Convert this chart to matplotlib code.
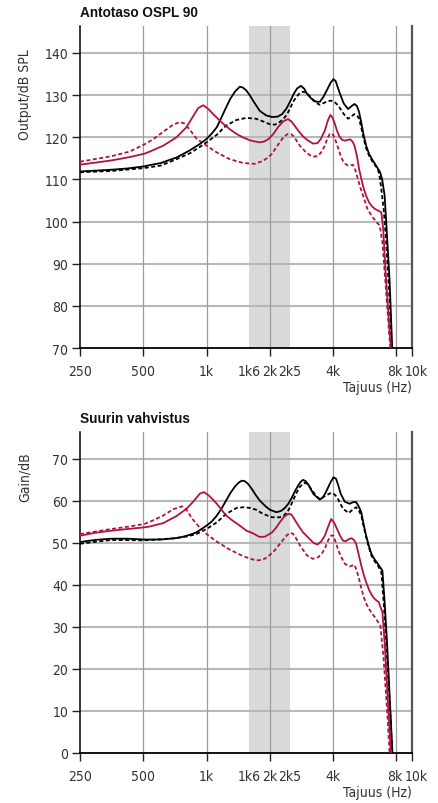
import numpy as np
import matplotlib
matplotlib.use('Agg')
import matplotlib.pyplot as plt
from matplotlib import font_manager
from matplotlib.transforms import ScaledTranslation
from matplotlib.ticker import FixedLocator, FixedFormatter

plt.rcParams['figure.dpi'] = 100

# pick a narrow face if there is one, the reference uses a condensed sans
_fonts = [(f.name, f.stretch) for f in font_manager.fontManager.ttflist]
if any(n == 'Liberation Sans Narrow' for n, s in _fonts):
    plt.rcParams['font.family'] = ['Liberation Sans Narrow', 'DejaVu Sans']
elif any(n == 'DejaVu Sans' and s in ('condensed', 'semi-condensed', 600, 700) for n, s in _fonts):
    plt.rcParams['font.family'] = ['DejaVu Sans']
    plt.rcParams['font.stretch'] = 'condensed'
else:
    plt.rcParams['font.family'] = ['Liberation Sans', 'DejaVu Sans']

# x axis (the printed chart ends a bit short of 10 kHz, where "10k" is written)
xmin, xmax = 250, 9500
xticks_major = [250, 500, 1000, 2000, 4000, 8000, xmax]
xlabels_major = ['250', '500', '1k', '2k', '4k', '8k', '10k']
xticks_minor = [1600, 2500]
xlabels_minor = ['1k6', '2k5']
band = (1600, 2500)

# --- Antotaso OSPL 90 ---
ospl_k_f = [250, 300, 352, 420, 506, 537, 607, 720, 833, 929, 1000, 1060, 1120, 1180, 1240, 1300,
            1370, 1440, 1490, 1547, 1606, 1665, 1790, 1920, 2052, 2180, 2290, 2400, 2490, 2600, 2700,
            2815, 2920, 3010, 3150, 3300, 3459, 3600, 3750, 3900, 4020, 4120, 4290, 4500, 4720, 4900,
            5060, 5200, 5320, 5450, 5600, 5760, 5930, 6130, 6330, 6550, 6700, 6850, 7040, 7225, 7438, 7650]
ospl_k = [111.9, 112.1, 112.3, 112.6, 113.1, 113.4, 113.9, 115.2, 116.9, 118.4, 119.6, 120.9, 122.4, 124.8, 127.1, 129.2,
          130.9, 132.0, 131.8, 131.1, 130.0, 128.7, 126.3, 125.2, 124.8, 124.9, 125.5, 126.8, 128.3, 130.3, 131.6,
          132.2, 131.5, 130.3, 129.2, 128.5, 128.4, 129.6, 131.3, 133.0, 133.8, 133.3, 130.7, 128.0, 126.7, 127.4,
          127.9, 127.4, 126.0, 123.5, 120.4, 117.9, 116.1, 114.8, 113.7, 112.5, 111.7, 110.0, 106.2, 96.7, 85.7, 70.0]

ospl_kd_f = [250, 352, 506, 607, 720, 833, 929, 1000, 1120, 1240, 1389, 1547, 1720, 1850, 2000, 2120,
             2231, 2330, 2420, 2500, 2580, 2680, 2780, 2880, 2980, 3100, 3255, 3450, 3600, 3750, 3920,
             4080, 4240, 4500, 4720, 4900, 5060, 5200, 5320, 5450, 5600, 5760, 5930, 6200, 6540, 6700,
             6964, 7160, 7438, 7600]
ospl_kd = [111.7, 112.0, 112.7, 113.3, 114.8, 116.2, 117.7, 118.8, 120.6, 122.8, 124.1, 124.6, 124.4, 123.8, 123.1, 123.0,
           123.6, 124.4, 125.5, 126.9, 128.4, 129.6, 130.5, 130.8, 130.6, 129.8, 128.5, 127.7, 128.1, 128.5, 128.7,
           128.3, 127.5, 125.5, 124.4, 125.0, 125.5, 125.2, 124.4, 122.3, 119.6, 117.3, 115.7, 114.0, 112.5, 110.1,
           103.0, 95.2, 81.0, 70.0]

ospl_r_f = [250, 352, 430, 506, 537, 622, 720, 803, 864, 912, 964, 1015, 1096, 1200, 1300, 1389,
            1500, 1606, 1700, 1791, 1880, 1964, 2080, 2190, 2320, 2440, 2530, 2630, 2750, 2880, 3010,
            3213, 3370, 3500, 3655, 3780, 3886, 3980, 4080, 4180, 4290, 4420, 4560, 4700, 4837, 4950,
            5060, 5200, 5320, 5450, 5600, 5760, 5930, 6130, 6330, 6550, 6790, 6930, 7100, 7380, 7540]
ospl_r = [113.5, 114.5, 115.3, 116.1, 116.6, 118.0, 120.0, 122.4, 125.0, 126.9, 127.6, 126.8, 125.1, 123.2, 121.8, 120.8,
          119.9, 119.3, 119.0, 118.8, 119.0, 119.5, 120.8, 122.4, 123.8, 124.3, 123.8, 122.7, 121.4, 120.2, 119.4,
          118.5, 118.6, 119.6, 121.6, 124.0, 125.3, 124.6, 123.2, 121.5, 120.2, 119.4, 119.2, 119.4, 119.5, 119.0,
          118.0, 115.5, 112.5, 110.2, 107.8, 106.0, 104.6, 103.6, 103.0, 102.6, 102.2, 98.3, 88.8, 76.2, 70.0]

ospl_rd_f = [250, 352, 430, 506, 560, 622, 694, 747, 783, 833, 895, 1000, 1120, 1290, 1494, 1697,
             1858, 1960, 2052, 2140, 2231, 2340, 2440, 2520, 2600, 2700, 2780, 2980, 3120, 3255, 3400,
             3530, 3655, 3760, 3857, 3940, 4030, 4130, 4240, 4350, 4470, 4600, 4720, 4970, 5100, 5250,
             5400, 5555, 5830, 6050, 6250, 6450, 6668, 6870, 7100, 7410, 7500]
ospl_rd = [114.2, 115.5, 116.6, 118.3, 119.6, 121.3, 123.0, 123.6, 123.3, 121.8, 119.7, 118.0, 116.4, 114.8, 113.9, 113.7,
           114.4, 115.2, 116.1, 117.5, 118.8, 120.2, 120.8, 120.8, 120.2, 119.0, 118.0, 116.4, 115.7, 115.4, 115.6,
           116.6, 118.0, 119.7, 120.8, 120.9, 120.4, 119.0, 117.3, 115.6, 114.3, 113.6, 113.3, 113.5, 112.3, 110.1,
           108.0, 106.2, 103.0, 101.7, 100.7, 99.8, 99.1, 95.1, 85.7, 73.0, 70.0]

# --- Suurin vahvistus ---
gain_k_f = [250, 295, 352, 421, 506, 607, 705, 765, 830, 895, 1000, 1060, 1120, 1180, 1240, 1300,
            1370, 1420, 1470, 1520, 1580, 1650, 1720, 1791, 1900, 2000, 2150, 2260, 2357, 2450, 2530,
            2630, 2726, 2800, 2880, 2960, 3050, 3230, 3459, 3580, 3700, 3900, 4020, 4130, 4230, 4350,
            4550, 4800, 4980, 5150, 5300, 5450, 5600, 5750, 5920, 6090, 6300, 6540, 6870, 7040, 7225,
            7438, 7670]
gain_k = [50.2, 50.7, 51.0, 51.0, 50.8, 50.8, 51.1, 51.4, 51.9, 52.5, 54.1, 55.1, 56.5, 58.2, 60.1, 61.9,
          63.5, 64.3, 64.8, 64.7, 64.0, 62.7, 61.3, 60.1, 58.8, 57.9, 57.3, 57.6, 58.3, 59.3, 60.5,
          62.2, 63.6, 64.5, 65.0, 64.7, 63.9, 61.6, 60.3, 60.8, 62.1, 64.5, 65.6, 65.3, 63.8, 61.7,
          59.8, 59.3, 59.7, 59.7, 58.7, 57.3, 54.3, 51.7, 49.3, 47.4, 46.1, 45.0, 43.4, 35.9, 26.4,
          13.6, 0.0]

gain_kd_f = [250, 352, 506, 705, 800, 895, 1000, 1120, 1240, 1389, 1510, 1620, 1720, 1858, 2052, 2231,
             2330, 2420, 2500, 2580, 2680, 2780, 2860, 2940, 3020, 3100, 3230, 3370, 3459, 3700, 3920,
             4050, 4180, 4320, 4470, 4750, 4950, 5150, 5300, 5450, 5600, 5750, 5920, 6090, 6300, 6540,
             6793, 6964, 7160, 7438, 7650]
gain_kd = [49.8, 50.7, 50.6, 51.1, 51.5, 52.1, 53.3, 54.9, 56.9, 58.3, 58.5, 58.3, 57.9, 56.9, 56.1, 56.1,
           56.5, 57.3, 58.5, 60.1, 61.9, 63.3, 64.0, 64.3, 64.0, 63.3, 62.0, 60.9, 60.4, 61.3, 61.9,
           61.6, 60.9, 59.4, 58.1, 57.1, 57.9, 58.5, 57.8, 56.5, 53.8, 51.4, 49.0, 47.0, 45.7, 44.6,
           43.0, 35.9, 26.4, 12.1, 0.0]

gain_r_f = [250, 295, 352, 421, 506, 537, 622, 720, 803, 864, 929, 973, 1035, 1120, 1240, 1340,
            1440, 1550, 1660, 1791, 1900, 2052, 2150, 2231, 2340, 2440, 2530, 2600, 2675, 2780, 2880,
            3100, 3230, 3370, 3510, 3655, 3800, 3920, 4050, 4180, 4320, 4470, 4600, 4750, 4900, 5030,
            5150, 5300, 5450, 5600, 5750, 5950, 6200, 6400, 6600, 6870, 7040, 7300, 7540]
gain_r = [51.7, 52.4, 52.9, 53.3, 53.7, 53.9, 54.7, 56.4, 58.1, 59.8, 61.7, 62.1, 61.1, 59.3, 56.5, 55.2,
          54.1, 52.9, 52.3, 51.4, 51.5, 52.5, 53.7, 54.9, 56.2, 56.9, 56.8, 55.9, 54.9, 53.6, 52.5,
          50.9, 50.0, 49.6, 50.3, 51.7, 54.0, 55.7, 54.8, 53.3, 51.7, 50.5, 50.4, 50.9, 51.1, 50.7,
          49.8, 47.2, 44.6, 42.4, 40.6, 38.7, 37.1, 36.4, 35.9, 33.5, 26.4, 12.1, 0.0]

gain_rd_f = [250, 352, 430, 506, 537, 622, 694, 765, 803, 850, 912, 1000, 1120, 1290, 1500, 1720,
             1850, 1950, 2110, 2220, 2320, 2420, 2510, 2570, 2630, 2720, 2815, 3010, 3213, 3400, 3530,
             3655, 3760, 3857, 3940, 4020, 4130, 4240, 4400, 4560, 4800, 4930, 5060, 5200, 5320, 5450,
             5600, 5760, 5930, 6130, 6330, 6520, 6720, 6964, 7225, 7438]
gain_rd = [52.1, 53.3, 53.9, 54.5, 55.0, 56.5, 58.0, 58.7, 57.9, 55.9, 54.1, 52.1, 50.3, 48.4, 46.8, 45.8,
           46.0, 46.6, 48.2, 49.6, 50.8, 51.9, 52.4, 52.2, 51.7, 50.3, 49.0, 47.0, 46.2, 46.6, 47.4,
           48.6, 50.2, 51.4, 51.8, 51.7, 50.0, 48.2, 46.4, 45.0, 44.4, 44.6, 44.8, 43.2, 41.4, 39.2,
           37.1, 35.5, 34.3, 33.2, 32.3, 31.3, 30.3, 22.4, 10.5, 0.0]

red = '#b0133e'
dash = (0, (2.2, 1.4))


def style_axes(ax, ylim, yticks, title, ylabel, ylabel_y):
    ax.set_xscale('log')
    ax.set_xlim(xmin, xmax)
    ax.set_ylim(*ylim)
    ax.axvspan(band[0], band[1], color='#d9dadb', lw=0, zorder=0)
    ax.xaxis.set_major_locator(FixedLocator(xticks_major))
    ax.xaxis.set_major_formatter(FixedFormatter(xlabels_major))
    ax.xaxis.set_minor_locator(FixedLocator(xticks_minor))
    ax.xaxis.set_minor_formatter(FixedFormatter(xlabels_minor))
    ax.set_yticks(yticks)
    ax.tick_params(axis='both', which='major', direction='out', length=5.5, width=1,
                   color='#222222', labelsize=10, labelcolor='#333333', pad=3)
    ax.tick_params(axis='x', which='major', pad=6)
    ax.tick_params(axis='x', which='minor', length=0, labelsize=10, labelcolor='#333333', pad=11.5)
    # nudge "8k" and "10k" apart, like the printed chart
    mt = ax.xaxis.get_major_ticks()
    for t, dx in ((mt[-2], -1.5), (mt[-1], 4.0)):
        t.label1.set_transform(t.label1.get_transform() + ScaledTranslation(dx / 100, 0, fig.dpi_scale_trans))
    for y in yticks:
        if y != ylim[0]:
            ax.axhline(y, color='#b8b8b8', lw=1.5, zorder=1)
    for x in xticks_major[1:-1]:
        ax.axvline(x, color='#9c9c9c', lw=0.9, zorder=1)
    ax.spines['top'].set_visible(False)
    ax.spines['left'].set_linewidth(1.1)
    ax.spines['bottom'].set_linewidth(1.3)
    ax.spines['right'].set_color('#555555')
    ax.spines['right'].set_linewidth(1.6)
    ax.text(0, 1.031, title, transform=ax.transAxes, fontsize=9.8, fontweight='bold',
            family=['Liberation Sans', 'DejaVu Sans'], stretch='normal',
            va='baseline', ha='left', color='#111111')
    ax.text(-0.166, ylabel_y, ylabel, transform=ax.transAxes, rotation=90, fontsize=10,
            va='top', ha='center', color='#333333')
    ax.text(1.0, -0.134, 'Tajuus (Hz)', transform=ax.transAxes, fontsize=10,
            va='baseline', ha='right', color='#333333')


fig = plt.figure(figsize=(4.38, 8.04))
ax1 = fig.add_axes([0.1826, 0.5659, 0.758, 0.4005])
ax2 = fig.add_axes([0.1826, 0.0622, 0.758, 0.3993])

style_axes(ax1, (70, 146.4), list(range(70, 141, 10)), 'Antotaso OSPL 90', 'Output/dB SPL', 0.931)
style_axes(ax2, (0, 76.4), list(range(0, 71, 10)), 'Suurin vahvistus', 'Gain/dB', 0.94)

ax1.plot(ospl_k_f, ospl_k, color='black', lw=1.3, zorder=4)
ax1.plot(ospl_kd_f, ospl_kd, color='black', lw=1.3, ls=dash, zorder=3)
ax1.plot(ospl_r_f, ospl_r, color=red, lw=1.3, zorder=4)
ax1.plot(ospl_rd_f, ospl_rd, color=red, lw=1.3, ls=dash, zorder=3)

ax2.plot(gain_k_f, gain_k, color='black', lw=1.3, zorder=4)
ax2.plot(gain_kd_f, gain_kd, color='black', lw=1.3, ls=dash, zorder=3)
ax2.plot(gain_r_f, gain_r, color=red, lw=1.3, zorder=4)
ax2.plot(gain_rd_f, gain_rd, color=red, lw=1.3, ls=dash, zorder=3)

plt.savefig('out.png', dpi=100)
